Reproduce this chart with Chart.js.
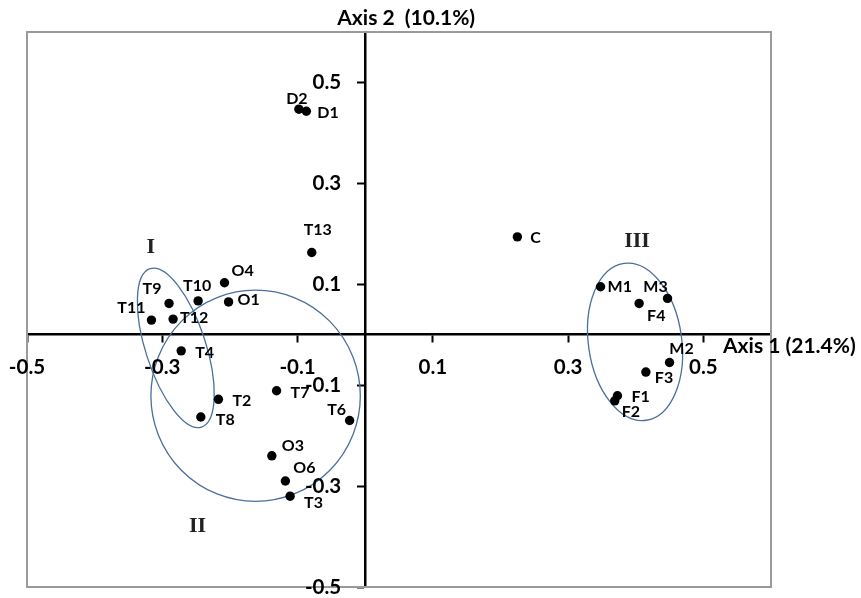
<!DOCTYPE html>
<html>
<head>
<meta charset="utf-8">
<script src="https://cdn.jsdelivr.net/npm/chart.js@4.4.1/dist/chart.umd.min.js"></script>
<style>
  html, body { margin: 0; padding: 0; background: #fff; }
  #wrap { width: 861px; height: 598px; position: relative; }
</style>
</head>
<body>
<div id="wrap"><canvas id="pca"></canvas></div>
<script>
// Sample scores on the first two principal axes
const sampleNames = ['D2','D1','T13','O4','T10','O1','T9','T11','T12','T4','T2','T8','T7','T6','O3','O6','T3','C','M1','M3','F4','M2','F3','F1','F2'];
const axis1Scores = [-0.098,-0.087,-0.079,-0.208,-0.247,-0.202,-0.290,-0.316,-0.284,-0.272,-0.217,-0.243,-0.131,-0.023,-0.138,-0.118,-0.111,0.225,0.348,0.447,0.405,0.450,0.415,0.373,0.369];
const axis2Scores = [0.447,0.443,0.163,0.103,0.067,0.065,0.062,0.029,0.031,-0.032,-0.128,-0.163,-0.111,-0.170,-0.240,-0.290,-0.320,0.194,0.095,0.072,0.062,-0.055,-0.074,-0.121,-0.131];

// Tick values shown on both axes
const xTickValues = [-0.5,-0.3,-0.1,0.1,0.3,0.5];
const yTickValues = [-0.5,-0.3,-0.1,0.1,0.3,0.5];

// Cluster outlines (centre, semi-axes in axis units, tilt in degrees)
const groupNames = ['I','II','III'];
const groupCx = [-0.280,-0.162,0.399];
const groupCy = [-0.026,-0.121,-0.014];
const groupRx = [0.0444,0.1548,0.069];
const groupRy = [0.165,0.2093,0.157];
const groupTilt = [-18,0,-8];
const groupLabelX = [-0.317,-0.248,0.402];
const groupLabelY = [0.174,-0.379,0.186];

// Label placement around each point: [dx, dy, align]
const labelPlacement = {
  D2:[-2,-10,'center'], D1:[11,2,'left'], T13:[6,-23,'center'], O4:[7,-12,'left'],
  T10:[-1,-15,'center'], O1:[9,-2,'left'], T9:[-17,-15,'center'], T11:[-6,-12,'right'],
  T12:[7,-1,'left'], T4:[14,2,'left'], T2:[14,2,'left'], T8:[15,3,'left'],
  T7:[14,2,'left'], T6:[-13,-11,'center'], O3:[10,-10,'left'], O6:[8,-13,'left'],
  T3:[14,7,'left'], C:[13,1,'left'], M1:[7,0,'left'], M3:[-12,-12,'center'],
  F4:[8,12,'left'], M2:[12,-14,'center'], F3:[9,6,'left'], F1:[14,1,'left'], F2:[7,11,'left']
};

const FONT = 'Lato, "Open Sans", sans-serif';

const overlay = {
  id: 'overlay',
  beforeDatasetsDraw(chart) {
    const {ctx, chartArea: a, scales: {x, y}} = chart;
    ctx.save();
    // plot frame
    ctx.strokeStyle = '#9a9a9a';
    ctx.lineWidth = 2;
    ctx.strokeRect(a.left, a.top, a.right - a.left, a.bottom - a.top);
    // cluster ellipses
    const pxX = Math.abs(x.getPixelForValue(1) - x.getPixelForValue(0));
    const pxY = Math.abs(y.getPixelForValue(1) - y.getPixelForValue(0));
    ctx.strokeStyle = '#4a6f9c';
    ctx.lineWidth = 1.3;
    groupNames.forEach((g, i) => {
      ctx.beginPath();
      ctx.ellipse(x.getPixelForValue(groupCx[i]), y.getPixelForValue(groupCy[i]),
        groupRx[i] * pxX, groupRy[i] * pxY, groupTilt[i] * Math.PI / 180, 0, Math.PI * 2);
      ctx.stroke();
    });
    // cluster numerals
    ctx.fillStyle = '#222';
    ctx.font = 'bold 22px "Liberation Serif", "Times New Roman", serif';
    ctx.textAlign = 'center';
    ctx.textBaseline = 'middle';
    groupNames.forEach((g, i) => {
      ctx.fillText(g, x.getPixelForValue(groupLabelX[i]), y.getPixelForValue(groupLabelY[i]));
    });
    ctx.restore();
  },
  afterDraw(chart) {
    const {ctx, chartArea: a, scales: {x, y}} = chart;
    ctx.save();
    ctx.fillStyle = '#000';
    const x0 = x.getPixelForValue(0);
    const y0 = y.getPixelForValue(0);
    ctx.font = 'bold 20.5px ' + FONT;
    ctx.textBaseline = 'middle';
    // y tick labels, left of the vertical axis
    ctx.textAlign = 'right';
    y.ticks.forEach(t => {
      ctx.fillText(t.value.toFixed(1), x0 - 24, y.getPixelForValue(t.value));
    });
    // x tick labels, below the horizontal axis
    ctx.textAlign = 'center';
    x.ticks.forEach(t => {
      ctx.fillText(t.value.toFixed(1), x.getPixelForValue(t.value), y0 + 33);
    });
    // point labels
    ctx.font = 'bold 16px ' + FONT;
    sampleNames.forEach((n, i) => {
      const p = labelPlacement[n];
      ctx.textAlign = p[2];
      ctx.fillText(n, x.getPixelForValue(axis1Scores[i]) + p[0], y.getPixelForValue(axis2Scores[i]) + p[1]);
    });
    // axis titles
    ctx.font = 'bold 21px ' + FONT;
    ctx.textAlign = 'left';
    ctx.fillText('Axis 1 (21.4%)', a.right - 48, y0 + 12);
    ctx.textAlign = 'center';
    ctx.fillText('Axis 2  (10.1%)', x0 + 41, a.top - 14);
    ctx.restore();
  }
};

new Chart(document.getElementById('pca'), {
  type: 'scatter',
  data: {
    datasets: [{
      data: sampleNames.map((n, i) => ({x: axis1Scores[i], y: axis2Scores[i]})),
      pointRadius: 4.7,
      pointHoverRadius: 4.7,
      pointBackgroundColor: '#000',
      pointBorderWidth: 0
    }]
  },
  options: {
    responsive: true,
    maintainAspectRatio: false,
    animation: false,
    layout: { padding: { left: 27, top: 32, right: 90, bottom: 11 } },
    plugins: { legend: { display: false }, tooltip: { enabled: false } },
    scales: {
      x: {
        type: 'linear', min: -0.5, max: 0.6,
        position: { y: 0 },
        afterBuildTicks: s => { s.ticks = xTickValues.map(v => ({ value: v })); },
        grid: { drawOnChartArea: false, drawTicks: true, tickLength: 7, tickColor: '#000', tickWidth: 2 },
        border: { color: '#000', width: 2.5 },
        ticks: { display: false }
      },
      y: {
        type: 'linear', min: -0.5, max: 0.6,
        position: { x: 0 },
        afterBuildTicks: s => { s.ticks = yTickValues.map(v => ({ value: v })); },
        grid: { drawOnChartArea: false, drawTicks: true, tickLength: 7, tickColor: '#000', tickWidth: 2 },
        border: { color: '#000', width: 2.5 },
        ticks: { display: false }
      }
    }
  },
  plugins: [overlay]
});
</script>
</body>
</html>
